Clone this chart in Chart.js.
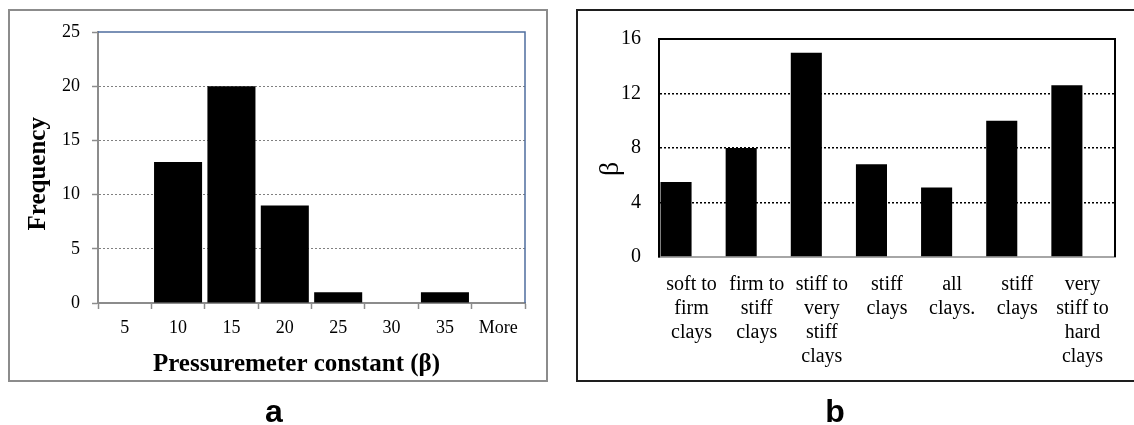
<!DOCTYPE html>
<html>
<head>
<meta charset="utf-8">
<script src="https://cdn.jsdelivr.net/npm/chart.js@4.4.1/dist/chart.umd.min.js"></script>
<style>
  html, body { margin: 0; padding: 0; background: #fff; overflow: hidden; }
  body { width: 1134px; height: 425px; position: relative; }
  .frame { position: absolute; box-sizing: border-box; }
  #frameA { left: 8px; top: 9px; width: 540px; height: 373px; border: 2px solid #8c8c8c; }
  #frameB { left: 576px; top: 9px; width: 600px; height: 373px; border: 2px solid #1e1e1e; }
  canvas { position: absolute; top: 0; }
  #histChart { left: 0; }
  #betaChart { left: 570px; }
  .panel { position: absolute; top: 395px; width: 100px; text-align: center;
           font: bold 32px "Liberation Sans", Arial, sans-serif; line-height: 32px; color: #000; }
</style>
</head>
<body>
<div class="frame" id="frameA"></div>
<div class="frame" id="frameB"></div>
<canvas id="histChart" width="560" height="425"></canvas>
<canvas id="betaChart" width="564" height="425"></canvas>
<div class="panel" style="left:224px">a</div>
<div class="panel" style="left:785px">b</div>
<script>
// (a) histogram of the pressuremeter constant
const histBins = ['5', '10', '15', '20', '25', '30', '35', 'More'];
const histFreq = [0, 13, 20, 9, 1, 0, 1, 0];
const freqTicks = [0, 5, 10, 15, 20, 25];

// (b) beta by soil description
const clayLabels = [
    ['soft to', 'firm', 'clays'],
    ['firm to', 'stiff', 'clays'],
    ['stiff to', 'very', 'stiff', 'clays'],
    ['stiff', 'clays'],
    ['all', 'clays.'],
    ['stiff', 'clays'],
    ['very', 'stiff to', 'hard', 'clays']
];
const betaValues = [5.5, 8.0, 15.0, 6.8, 5.1, 10.0, 12.6];
const betaTicks = [0, 4, 8, 12, 16];

const serif = '"Liberation Serif", "Times New Roman", serif';

// top + right edge of the plot area
const frameLines = {
    id: 'frameLines',
    beforeDatasetsDraw(chart, args, opts) {
        const {ctx, chartArea: a} = chart;
        ctx.save();
        ctx.strokeStyle = opts.color;
        ctx.lineWidth = opts.width;
        ctx.beginPath();
        ctx.moveTo(a.left, a.top);
        ctx.lineTo(a.right, a.top);
        ctx.lineTo(a.right, a.bottom);
        ctx.stroke();
        ctx.restore();
    }
};

new Chart(document.getElementById('histChart'), {
    type: 'bar',
    data: {
        labels: histBins,
        datasets: [{
            data: histFreq,
            backgroundColor: '#000',
            barPercentage: 0.9,
            categoryPercentage: 1.0
        }]
    },
    plugins: [frameLines],
    options: {
        responsive: false,
        animation: false,
        layout: { padding: { top: 32, right: 35, left: 24, bottom: 45 } },
        plugins: {
            legend: { display: false },
            tooltip: { enabled: false },
            frameLines: { color: '#4f6e9e', width: 1.5 }
        },
        scales: {
            x: {
                afterFit: s => { s.height = 77; },
                grid: { drawOnChartArea: false, drawTicks: true, tickLength: 6, tickColor: '#8c8c8c', tickWidth: 1.5 },
                border: { color: '#8c8c8c', width: 2 },
                ticks: { color: '#000', padding: 8, maxRotation: 0, autoSkip: false,
                         font: { family: serif, size: 18, lineHeight: 1.2 } },
                // trailing spaces nudge the centred title a little to the left
                title: { display: true, text: 'Pressuremeter constant (β)\u2003\u2009', color: '#000',
                         padding: { top: 0, bottom: 0 },
                         font: { family: serif, size: 25, weight: 'bold', lineHeight: 1.2 } }
            },
            y: {
                min: freqTicks[0],
                max: freqTicks[freqTicks.length - 1],
                afterFit: s => { s.width = 74; },
                ticks: { stepSize: freqTicks[1] - freqTicks[0], color: '#000', padding: 12,
                         font: { family: serif, size: 18, lineHeight: 1.2 } },
                grid: {
                    color: c => (c.tick && (c.tick.value === 0 || c.tick.value === 25)) ? 'rgba(0,0,0,0)' : '#808080',
                    lineWidth: 1, tickLength: 6, tickColor: '#8c8c8c', tickWidth: 1.5, tickBorderDash: []
                },
                border: { color: '#8c8c8c', width: 2, dash: [2, 2] },
                title: { display: true, text: 'Frequency\u2002', color: '#000',
                         padding: { top: 0, bottom: 0 },
                         font: { family: serif, size: 25, weight: 'bold', lineHeight: 1.2 } }
            }
        }
    }
});

new Chart(document.getElementById('betaChart'), {
    type: 'bar',
    data: {
        labels: clayLabels,
        datasets: [
            { data: betaValues, backgroundColor: '#000' },
            { data: [], backgroundColor: '#000' }
        ]
    },
    plugins: [frameLines],
    options: {
        responsive: false,
        animation: false,
        datasets: { bar: { barPercentage: 1.0, categoryPercentage: 0.954 } },
        layout: { padding: { top: 39, right: 19, left: 25, bottom: 0 } },
        plugins: {
            legend: { display: false },
            tooltip: { enabled: false },
            frameLines: { color: '#000', width: 2 }
        },
        scales: {
            x: {
                afterFit: s => { s.height = 168; },
                grid: { display: false },
                border: { color: '#a6a6a6', width: 2 },
                ticks: { color: '#000', padding: 8, maxRotation: 0, autoSkip: false,
                         font: { family: serif, size: 20, lineHeight: 1.2 } }
            },
            y: {
                min: betaTicks[0],
                max: betaTicks[betaTicks.length - 1],
                afterFit: s => { s.width = 64; },
                ticks: { stepSize: betaTicks[1] - betaTicks[0], color: '#000', padding: 18,
                         font: { family: serif, size: 20, lineHeight: 1.2 } },
                grid: {
                    color: c => (c.tick && (c.tick.value === 0 || c.tick.value === 16)) ? 'rgba(0,0,0,0)' : '#000',
                    lineWidth: 1.5, drawTicks: false
                },
                border: { color: '#000', width: 2, dash: [2, 2] },
                title: { display: true, text: 'β\u2003\u2002', color: '#000',
                         padding: { top: 0, bottom: 0 },
                         font: { family: serif, size: 28, lineHeight: 1.1 } }
            }
        }
    }
});
</script>
</body>
</html>
